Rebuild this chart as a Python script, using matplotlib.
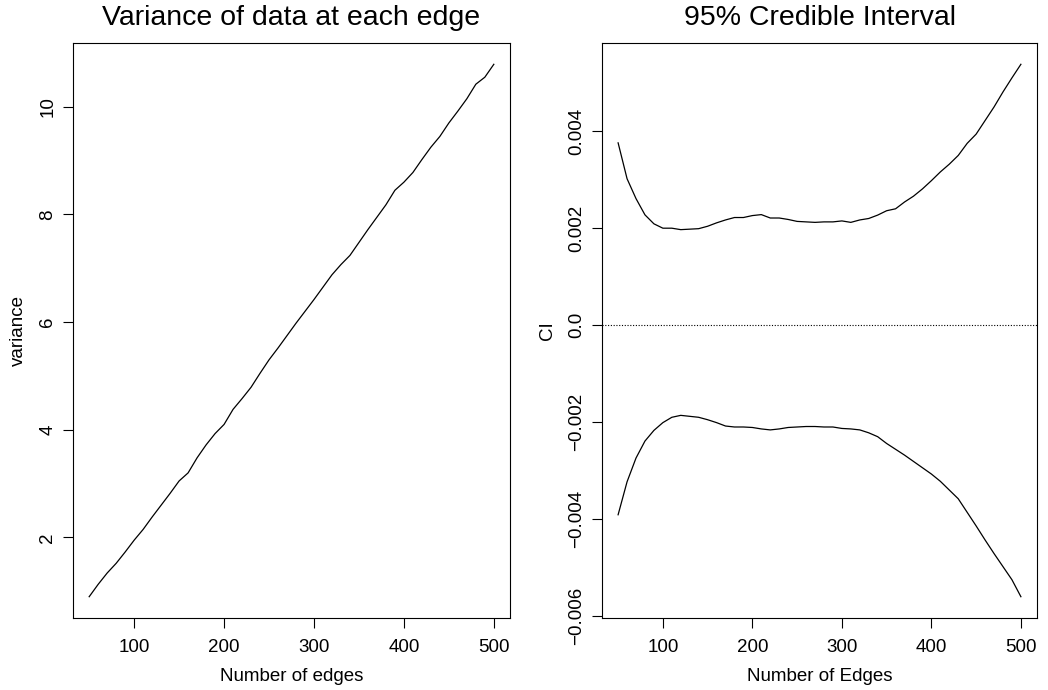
import numpy as np
import matplotlib
matplotlib.use("Agg")
import matplotlib.pyplot as plt
from matplotlib.ticker import FuncFormatter

plt.rcParams['font.family'] = ['Liberation Sans', 'DejaVu Sans']

# number of edges
edges = list(range(50, 501, 10))

# variance of data at each edge
variance = [0.90, 1.13, 1.34, 1.52, 1.73, 1.95, 2.15, 2.38, 2.60, 2.82,
            3.05, 3.20, 3.48, 3.72, 3.93, 4.10, 4.38, 4.58, 4.79, 5.05,
            5.30, 5.52, 5.75, 5.98, 6.20, 6.42, 6.65, 6.88, 7.07, 7.24,
            7.48, 7.72, 7.95, 8.18, 8.45, 8.60, 8.78, 9.02, 9.25, 9.45,
            9.70, 9.92, 10.15, 10.42, 10.55, 10.79]

# 95% credible interval bounds
ci_upper = [0.00376, 0.00302, 0.00261, 0.002275, 0.00209, 0.00200, 0.00200, 0.00197,
            0.00198, 0.00199, 0.00204, 0.00211, 0.00217, 0.00222, 0.00222, 0.00226,
            0.00228, 0.00221, 0.00221, 0.00218, 0.00214, 0.00213, 0.00212, 0.00213,
            0.00213, 0.00215, 0.00212, 0.00217, 0.00220, 0.00227, 0.00236, 0.00240,
            0.00254, 0.00266, 0.00281, 0.00298, 0.00316, 0.00332, 0.00350, 0.00375,
            0.00394, 0.00422, 0.00450, 0.00481, 0.00510, 0.00538]
ci_lower = [-0.00391, -0.00323, -0.00274, -0.00239, -0.00217, -0.00201, -0.00190, -0.00186,
            -0.00188, -0.00190, -0.00195, -0.00201, -0.00208, -0.00210, -0.00210, -0.00211,
            -0.00214, -0.00216, -0.00214, -0.00211, -0.00210, -0.00209, -0.00209, -0.00210,
            -0.00210, -0.00213, -0.00214, -0.00216, -0.00222, -0.00230, -0.00244, -0.00256,
            -0.00268, -0.00281, -0.00294, -0.00307, -0.00322, -0.00340, -0.00358, -0.00386,
            -0.00414, -0.00443, -0.00471, -0.00498, -0.00525, -0.00560]

tick_size = 13.5
title_size = 20.5

fig = plt.figure(figsize=(10.48, 6.9), dpi=100)
ax1 = fig.add_axes([73 / 1048, 72 / 690, 437 / 1048, 575 / 690])
ax2 = fig.add_axes([602 / 1048, 72 / 690, 435 / 1048, 575 / 690])

# left panel: variance
ax1.plot(edges, variance, color='black', linewidth=0.9)
ax1.margins(x=0.04, y=0.04)
ax1.set_xticks([100, 200, 300, 400, 500])
ax1.set_yticks([2, 4, 6, 8, 10])
ax1.set_title("Variance of data at each edge", fontsize=title_size, pad=13)
ax1.set_xlabel("Number of edges", fontsize=tick_size, labelpad=9)
ax1.set_ylabel("variance", fontsize=tick_size, labelpad=9)

# right panel: credible interval
ax2.plot(edges, ci_upper, color='black', linewidth=0.9)
ax2.plot(edges, ci_lower, color='black', linewidth=0.9)
ax2.margins(x=0.04, y=0.04)
ax2.axhline(0, color='black', linestyle=(0, (1, 1.5)), linewidth=0.8)
ax2.set_xticks([100, 200, 300, 400, 500])
ax2.set_yticks([-0.006, -0.004, -0.002, 0.0, 0.002, 0.004])
ax2.yaxis.set_major_formatter(FuncFormatter(
    lambda v, p: "0.0" if abs(v) < 1e-12 else ("%.3f" % v).replace("-", "\u2212")))
ax2.set_title("95% Credible Interval", fontsize=title_size, pad=13)
ax2.set_xlabel("Number of Edges", fontsize=tick_size, labelpad=9)
ax2.set_ylabel("CI", fontsize=tick_size, labelpad=9)

for ax in (ax1, ax2):
    ax.tick_params(direction='out', length=7, width=0.8, labelsize=tick_size)
    ax.tick_params(axis='x', pad=8)
    ax.tick_params(axis='y', pad=5)
    for lab in ax.get_yticklabels():
        lab.set_rotation(90)
        lab.set_va('center')
    for s in ax.spines.values():
        s.set_linewidth(0.8)

fig.savefig("out.png", dpi=100)
